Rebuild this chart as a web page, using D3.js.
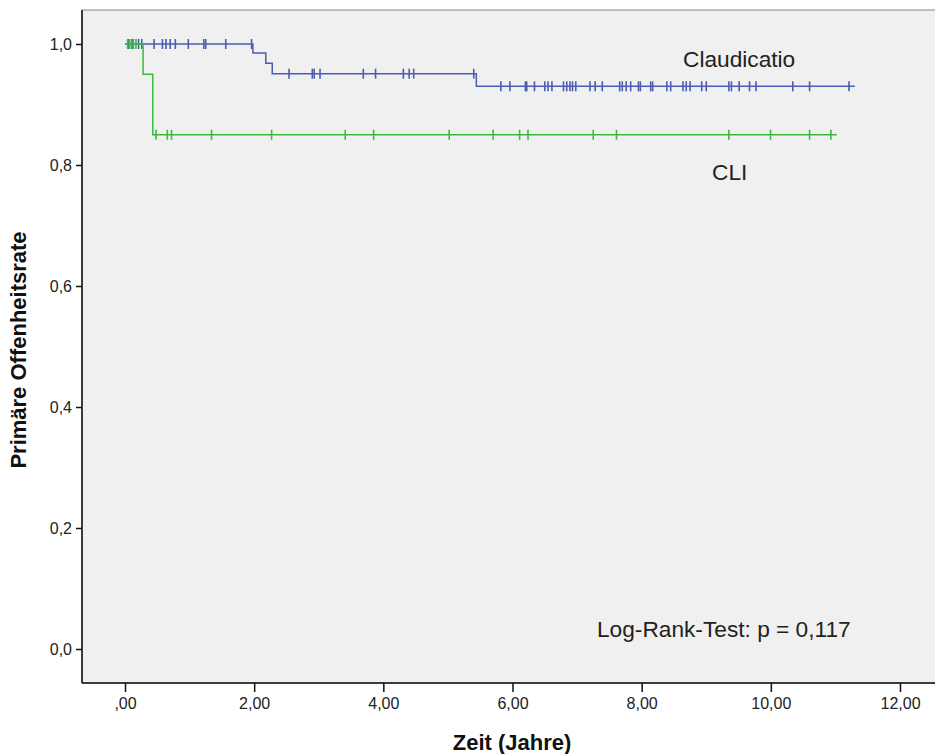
<!DOCTYPE html>
<meta charset="utf-8">
<title>Primäre Offenheitsrate</title>
<style>
  body { margin: 0; background: white; }
  text { font-family: "Liberation Sans", Arial, sans-serif; fill: #222; }
  .tick text { font-size: 16px; }
  .axis-title { font-size: 22px; font-weight: bold; fill: #111; }
  .note { font-size: 22.7px; }
</style>
<svg width="935" height="754"></svg>
<script src="https://d3js.org/d3.v7.min.js"></script>
<script>
// Kaplan-Meier steps: [time, survival]
var claudSteps = [[0, 1], [1.98, 0.985], [2.18, 0.968], [2.28, 0.951], [5.44, 0.930], [11.30, 0.930]];
var cliSteps = [[0, 1], [0.28, 0.95], [0.43, 0.85], [11.02, 0.85]];

// censored cases (years)
var claudCensored = [0.05, 0.12, 0.21, 0.26, 0.45, 0.58, 0.635, 0.70, 0.78, 0.98, 1.22, 1.25, 1.56, 1.96,
  2.54, 2.90, 2.93, 3.02, 3.69, 3.88, 4.31, 4.40, 4.47, 5.40,
  5.82, 5.96, 6.20, 6.22, 6.34, 6.50, 6.55, 6.61, 6.79, 6.84, 6.89, 6.93, 6.98, 7.20, 7.28, 7.39,
  7.66, 7.70, 7.76, 7.83, 7.95, 7.98, 8.14, 8.17, 8.39, 8.45, 8.64, 8.69, 8.75, 8.93, 9.00,
  9.35, 9.39, 9.51, 9.67, 9.77, 10.34, 10.60, 11.21];
var cliCensored = [0.04, 0.07, 0.10, 0.13, 0.17, 0.48, 0.655, 0.72, 1.34, 2.27, 3.41, 3.85, 5.02, 5.70,
  6.11, 6.24, 7.25, 7.61, 9.35, 9.995, 10.60, 10.93];

var xTicks = [0, 2, 4, 6, 8, 10, 12];
var xTickLabels = [",00", "2,00", "4,00", "6,00", "8,00", "10,00", "12,00"];
var yTicks = [0, 0.2, 0.4, 0.6, 0.8, 1.0];
var yTickLabels = ["0,0", "0,2", "0,4", "0,6", "0,8", "1,0"];

var svg = d3.select("svg");
var frame = { left: 82, top: 10, right: 940, bottom: 683 };

var x = d3.scaleLinear().domain([0, 12]).range([125, 900]);
var y = d3.scaleLinear().domain([0, 1]).range([649, 44]);

svg.append("rect")
    .attr("x", frame.left).attr("y", frame.top)
    .attr("width", frame.right - frame.left).attr("height", frame.bottom - frame.top)
    .attr("fill", "#f0f0f0").attr("stroke", "#888").attr("stroke-width", 1);

// axes
var xAxis = svg.append("g")
    .attr("transform", "translate(0," + frame.bottom + ")")
    .call(d3.axisBottom(x).tickValues(xTicks).tickSize(9).tickPadding(6)
      .tickFormat(function(d, i) { return xTickLabels[i]; }));
xAxis.select(".domain").attr("d", "M" + frame.left + ",0H" + frame.right).attr("stroke", "#111").attr("stroke-width", 1.5);
xAxis.selectAll(".tick line").attr("stroke", "#111").attr("stroke-width", 1.5);

var yAxis = svg.append("g")
    .attr("transform", "translate(" + frame.left + ",0)")
    .call(d3.axisLeft(y).tickValues(yTicks).tickSize(6).tickPadding(4)
      .tickFormat(function(d, i) { return yTickLabels[i]; }));
yAxis.select(".domain").attr("d", "M0," + frame.top + "V" + frame.bottom).attr("stroke", "#111").attr("stroke-width", 1.5);
yAxis.selectAll(".tick line").attr("stroke", "#111").attr("stroke-width", 1.5);
svg.selectAll(".tick text").attr("fill", "#222").style("font-family", "'Liberation Sans', Arial, sans-serif");

// survival lines
var line = d3.line().x(function(d) { return x(d[0]); }).y(function(d) { return y(d[1]); }).curve(d3.curveStepAfter);

function survAt(steps, t) {
  var s = steps[0][1];
  steps.forEach(function(d) { if (d[0] <= t) s = d[1]; });
  return s;
}

function drawGroup(steps, censored, color) {
  var g = svg.append("g");
  g.append("path").datum(steps)
      .attr("d", line).attr("fill", "none").attr("stroke", color).attr("stroke-width", 1.5);
  g.selectAll("line.cens").data(censored).enter().append("line")
      .attr("class", "cens")
      .attr("x1", function(d) { return x(d); }).attr("x2", function(d) { return x(d); })
      .attr("y1", function(d) { return y(survAt(steps, d)) - 5; })
      .attr("y2", function(d) { return y(survAt(steps, d)) + 5; })
      .attr("stroke", color).attr("stroke-width", 1.6);
}

drawGroup(claudSteps, claudCensored, "#4a5db3");
drawGroup(cliSteps, cliCensored, "#3dba3d");

// labels
svg.append("text").attr("class", "note").attr("x", 683).attr("y", 67).text("Claudicatio");
svg.append("text").attr("class", "note").attr("x", 712).attr("y", 180).text("CLI");
svg.append("text").attr("class", "note").attr("x", 597).attr("y", 637).text("Log-Rank-Test: p = 0,117");

svg.append("text").attr("class", "axis-title")
    .attr("x", 512).attr("y", 750).attr("text-anchor", "middle").text("Zeit (Jahre)");
svg.append("text").attr("class", "axis-title")
    .attr("transform", "translate(26,350) rotate(-90)").attr("text-anchor", "middle")
    .text("Primäre Offenheitsrate");
</script>
